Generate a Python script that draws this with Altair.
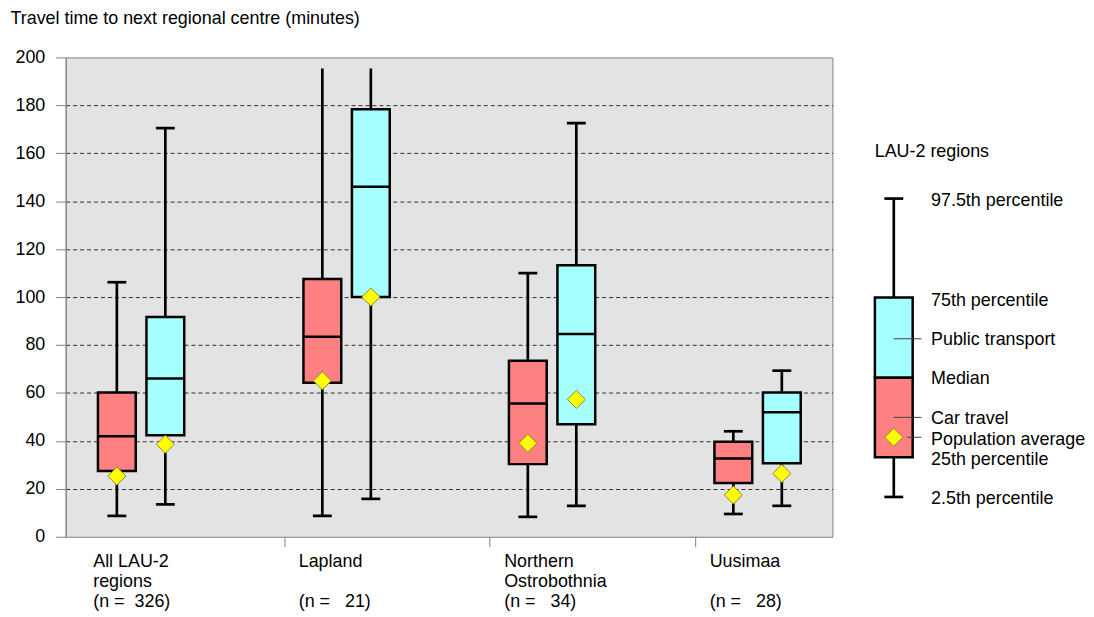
import altair as alt
import pandas as pd

FONT = "Liberation Sans, Arial, sans-serif"
FS = 18

# ---------------- data ----------------
groups = ["All LAU-2 regions", "Lapland", "Northern Ostrobothnia", "Uusimaa"]
label_line1 = ["All LAU-2", "Lapland", "Northern", "Uusimaa"]
label_line2 = ["regions", "", "Ostrobothnia", ""]
label_line3 = ["(n =\u00a0\u00a0326)", "(n =\u00a0\u00a0\u00a021)", "(n =\u00a0\u00a0\u00a034)",
               "(n =\u00a0\u00a0\u00a028)"]
modes = ["Car travel", "Public transport"]

car_p025 = [8.7, 8.7, 8.3, 9.5]
car_p25 = [27.4, 64.3, 30.3, 22.4]
car_med = [41.9, 83.4, 55.6, 32.6]
car_p75 = [60.2, 107.5, 73.4, 39.6]
car_p975 = [106.2, 195.4, 110.0, 44.0]
car_avg = [25.3, 65.1, 39.0, 17.4]

pt_p025 = [13.5, 15.8, 12.9, 12.9]
pt_p25 = [42.3, 100.0, 46.9, 30.7]
pt_med = [66.0, 146.0, 84.6, 51.9]
pt_p75 = [91.7, 178.4, 113.3, 60.2]
pt_p975 = [170.5, 195.4, 172.6, 69.3]
pt_avg = [38.6, 100.0, 57.3, 26.4]

upper_cap = [True, False, True, True]

# legend (schematic box)
leg_stats = {"p025": 16.6, "p25": 33.2, "med": 66.4, "p75": 99.8, "p975": 141.1, "avg": 41.5}
leg_labels = ["97.5th percentile", "75th percentile", "Public transport", "Median",
              "Car travel", "Population average", "25th percentile", "2.5th percentile"]
leg_label_y = [140.2, 98.3, 82.2, 66.0, 49.0, 40.2, 32.0, 15.8]
leg_title = "LAU-2 regions"
leg_title_y = 160.6
leader_y = [82.6, 49.8, 41.5]

# ---------------- layout constants ----------------
mode_offset = {"Car travel": -0.118, "Public transport": 0.118}
label_offset = -0.233
tick_offset = 0.697
stats = {
    "Car travel": (car_p025, car_p25, car_med, car_p75, car_p975, car_avg),
    "Public transport": (pt_p025, pt_p25, pt_med, pt_p75, pt_p975, pt_avg),
}

rows = []
for gi, g in enumerate(groups):
    for m in modes:
        p025, p25, med, p75, p975, avg = (s[gi] for s in stats[m])
        rows.append(dict(group=g, gi=gi, mode=m, p025=p025, p25=p25, med=med,
                         p75=p75, p975=p975, avg=avg, cap=upper_cap[gi]))
df = pd.DataFrame(rows)
df["pos"] = df["gi"] + df["mode"].map(mode_offset)

lab_df = pd.DataFrame({"gi": range(len(groups)), "l1": label_line1, "l2": label_line2,
                       "l3": label_line3})
lab_df["lx"] = lab_df["gi"] + label_offset

W, H = 771, 482
xscale = alt.Scale(domain=[-0.3428, 3.340], nice=False, zero=False)
xaxis = alt.Axis(values=[i + tick_offset for i in range(len(groups) - 1)], labels=False,
                 domain=False, grid=False, tickSize=10, tickColor="#808080", title=None)
yscale = alt.Scale(domain=[0, 200], nice=False)
yaxis = alt.Axis(values=list(range(0, 201, 20)), title=None, tickSize=10, tickColor="#808080",
                 domainColor="#808080", labelFontSize=FS, labelFont=FONT, labelColor="black",
                 labelPadding=11, minExtent=57, gridColor="#303030", gridDash=[4, 3],
                 gridWidth=1,
                 gridOpacity={"condition": {"test": "datum.value == 0 || datum.value == 200",
                                            "value": 0}, "value": 1})

color = alt.Color("mode:N", scale=alt.Scale(domain=modes, range=["#FF8080", "#A6FFFF"]),
                  legend=None)

base = alt.Chart(df)
X = alt.X("pos:Q", scale=xscale, axis=xaxis)

whisk = base.mark_rule(color="black", strokeWidth=2.7).encode(
    x=X, y=alt.Y("p025:Q", scale=yscale, axis=yaxis), y2="p975:Q")
cap_lo = base.mark_tick(orient="horizontal", size=19, thickness=2.7, color="black", opacity=1).encode(
    x=X, y=alt.Y("p025:Q", scale=yscale, axis=yaxis))
cap_hi = base.transform_filter("datum.cap").mark_tick(
    orient="horizontal", size=19, thickness=2.7, color="black", opacity=1).encode(
    x=X, y=alt.Y("p975:Q", scale=yscale, axis=yaxis))
box = base.mark_bar(size=38, stroke="black", strokeWidth=2.5, opacity=1).encode(
    x=X, y=alt.Y("p25:Q", scale=yscale, axis=yaxis), y2="p75:Q", color=color)
median = base.mark_tick(orient="horizontal", size=38, thickness=2.5, color="black", opacity=1).encode(
    x=X, y=alt.Y("med:Q", scale=yscale, axis=yaxis))
avg = base.mark_point(shape="diamond", filled=True, fill="#FFFF00", stroke="#8a8a30",
                      strokeWidth=1, size=330, opacity=1).encode(
    x=X, y=alt.Y("avg:Q", scale=yscale, axis=yaxis))


def label_layer(field, row):
    return alt.Chart(lab_df).mark_text(align="left", baseline="middle", fontSize=FS, font=FONT,
                                       color="black").encode(
        x=alt.X("lx:Q", scale=xscale, axis=xaxis), y=alt.value(H + 25 + 20.5 * row),
        text=f"{field}:N")


labels = [label_layer("l1", 0), label_layer("l2", 1), label_layer("l3", 2)]

main = alt.layer(whisk, cap_lo, cap_hi, box, median, avg, *labels).properties(
    width=W, height=H, view=alt.ViewBackground(fill="#E3E3E3", stroke="#808080", strokeWidth=1))

# ---------------- legend panel ----------------
LW = 250
lx_scale = alt.Scale(domain=[0, 1], nice=False, zero=False)
ly_scale = alt.Scale(domain=[0, 200], nice=False)
leg_box_x = 0.228
leg_text_x = 0.384
leg_title_x = 0.148
leader_x0 = [0.228, 0.228, 0.284]
leader_x1 = 0.344

ldf = pd.DataFrame([dict(x=leg_box_x, **leg_stats)])
seg_df = pd.DataFrame({
    "x": [leg_box_x, leg_box_x],
    "lo": [leg_stats["p25"], leg_stats["med"]],
    "hi": [leg_stats["med"], leg_stats["p75"]],
    "mode": modes,
})
txt_df = pd.DataFrame({"x": [leg_text_x] * len(leg_labels), "y": leg_label_y, "t": leg_labels})
ttl_df = pd.DataFrame({"x": [leg_title_x], "y": [leg_title_y], "t": [leg_title]})
lead_df = pd.DataFrame({"x": leader_x0, "x2": [leader_x1] * 3, "y": leader_y})

LX = alt.X("x:Q", scale=lx_scale, axis=None)


def LY(f):
    return alt.Y(f, scale=ly_scale, axis=None)


l_whisk = alt.Chart(ldf).mark_rule(color="black", strokeWidth=2.7).encode(
    x=LX, y=LY("p025:Q"), y2="p975:Q")
l_caps = alt.Chart(ldf).transform_fold(["p025", "p975"], as_=["k", "v"]).mark_tick(
    orient="horizontal", size=19, thickness=2.7, color="black", opacity=1).encode(
    x=LX, y=LY("v:Q"))
l_box = alt.Chart(seg_df).mark_bar(size=38, stroke="black", strokeWidth=2.5, opacity=1).encode(
    x=LX, y=LY("lo:Q"), y2="hi:Q", color=color)
l_lead = alt.Chart(lead_df).mark_rule(color="#404040", strokeWidth=1).encode(
    x=LX, x2="x2:Q", y=LY("y:Q"))
l_avg = alt.Chart(ldf).mark_point(shape="diamond", filled=True, fill="#FFFF00", stroke="#8a8a30",
                                  strokeWidth=1, size=330, opacity=1).encode(
    x=LX, y=LY("avg:Q"))
l_txt = alt.Chart(txt_df).mark_text(align="left", baseline="middle", fontSize=FS, font=FONT,
                                    color="black").encode(x=LX, y=LY("y:Q"), text="t:N")
l_ttl = alt.Chart(ttl_df).mark_text(align="left", baseline="middle", fontSize=FS, font=FONT,
                                    color="black").encode(x=LX, y=LY("y:Q"), text="t:N")

legend = alt.layer(l_whisk, l_caps, l_box, l_lead, l_avg, l_txt, l_ttl).properties(
    width=LW, height=H, view=alt.ViewBackground(stroke="transparent"))

chart = alt.hconcat(main, legend, spacing=0).properties(
    padding=0,
    title=alt.TitleParams("Travel time to next regional centre (minutes)", anchor="start",
                          fontSize=FS, font=FONT, fontWeight="normal", color="black",
                          offset=20, dx=2),
).configure(background="white")

chart.save("out.html", embed_options={"renderer": "svg", "actions": False})
